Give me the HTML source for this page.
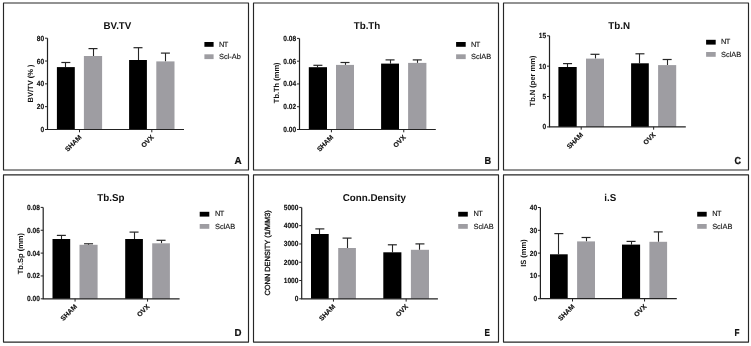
<!DOCTYPE html>
<html><head><meta charset="utf-8"><style>
html,body{margin:0;padding:0;background:#fff;}
body{width:751px;height:346px;overflow:hidden;}
svg{display:block;will-change:transform;filter:blur(0.2px);}
text{font-family:"Liberation Sans",sans-serif;fill:#111;text-rendering:geometricPrecision;}
.tk{font-size:6.6px;font-weight:bold;text-anchor:end;stroke:#000;stroke-width:0.12px;}
.xl{font-size:6.8px;font-weight:bold;text-anchor:end;stroke:#000;stroke-width:0.15px;}
.ti{font-size:9.8px;font-weight:bold;text-anchor:middle;}
.lg{font-size:7.4px;stroke:#111;stroke-width:0.12px;}
.yl{font-size:7.5px;font-weight:bold;text-anchor:middle;}
.ylr{font-size:7.4px;text-anchor:middle;stroke:#111;stroke-width:0.32px;}
.le{font-size:10.2px;font-weight:bold;stroke:#000;stroke-width:0.2px;}
</style></head><body>
<svg width="751" height="346" viewBox="0 0 751 346">
<rect width="751" height="346" fill="#fff"/>
<path d="M3.5 3H248.5V170H3.5Z" fill="none" stroke="#262626" stroke-width="1.15" stroke-linejoin="round"/>
<line x1="65.5" y1="62.5" x2="65.5" y2="67.1" stroke="#262626" stroke-width="1.1"/>
<line x1="61.35" y1="62.5" x2="70.35" y2="62.5" stroke="#262626" stroke-width="1.2"/>
<rect x="56.9" y="67.1" width="17.9" height="62.4" fill="#000"/>
<line x1="93.5" y1="48.6" x2="93.5" y2="56" stroke="#262626" stroke-width="1.1"/>
<line x1="88.5" y1="48.6" x2="97.5" y2="48.6" stroke="#262626" stroke-width="1.2"/>
<rect x="83.9" y="56" width="18.2" height="73.5" fill="#9e9da2"/>
<line x1="138.5" y1="47.7" x2="138.5" y2="60" stroke="#262626" stroke-width="1.1"/>
<line x1="133.5" y1="47.7" x2="142.5" y2="47.7" stroke="#262626" stroke-width="1.2"/>
<rect x="129.1" y="60" width="17.8" height="69.5" fill="#000"/>
<line x1="165.5" y1="53.1" x2="165.5" y2="61.4" stroke="#262626" stroke-width="1.1"/>
<line x1="160.9" y1="53.1" x2="169.9" y2="53.1" stroke="#262626" stroke-width="1.2"/>
<rect x="156.3" y="61.4" width="18.2" height="68.1" fill="#9e9da2"/>
<path d="M47.5 38.2V129.5H184" fill="none" stroke="#222" stroke-width="1.2"/>
<line x1="45" y1="129.5" x2="47.5" y2="129.5" stroke="#222" stroke-width="1"/>
<text transform="translate(44.2 132) scale(1 1.12)" class="tk">0</text>
<line x1="45" y1="106.67" x2="47.5" y2="106.67" stroke="#222" stroke-width="1"/>
<text transform="translate(44.2 109.17) scale(1 1.12)" class="tk">20</text>
<line x1="45" y1="83.85" x2="47.5" y2="83.85" stroke="#222" stroke-width="1"/>
<text transform="translate(44.2 86.35) scale(1 1.12)" class="tk">40</text>
<line x1="45" y1="61.03" x2="47.5" y2="61.03" stroke="#222" stroke-width="1"/>
<text transform="translate(44.2 63.53) scale(1 1.12)" class="tk">60</text>
<line x1="45" y1="38.2" x2="47.5" y2="38.2" stroke="#222" stroke-width="1"/>
<text transform="translate(44.2 40.7) scale(1 1.12)" class="tk">80</text>
<line x1="79.5" y1="129.5" x2="79.5" y2="132.3" stroke="#222" stroke-width="1"/>
<text transform="translate(81.9 137.8) rotate(-45)" class="xl">SHAM</text>
<line x1="151.8" y1="129.5" x2="151.8" y2="132.3" stroke="#222" stroke-width="1"/>
<text transform="translate(154.2 137.8) rotate(-45)" class="xl">OVX</text>
<text transform="translate(117.4 28.8) scale(1 1.02)" class="ti">BV.TV</text>
<rect x="204.4" y="42" width="9.2" height="4.8" fill="#000"/>
<rect x="204.4" y="54.3" width="9.2" height="4.8" fill="#9e9da2"/>
<text x="219" y="46.5" class="lg" letter-spacing="-0.6">NT</text>
<text x="219" y="58.9" class="lg">Scl-Ab</text>
<text transform="translate(32.6 83.5) rotate(-90)" class="yl">BV/TV (% )</text>
<text transform="translate(234.4 163.8) scale(0.97 1)" class="le">A</text>
<path d="M253.5 3H498.5V170H253.5Z" fill="none" stroke="#262626" stroke-width="1.15" stroke-linejoin="round"/>
<line x1="317.5" y1="65.3" x2="317.5" y2="67.2" stroke="#262626" stroke-width="1.1"/>
<line x1="313.4" y1="65.3" x2="322.4" y2="65.3" stroke="#262626" stroke-width="1.2"/>
<rect x="308.8" y="67.2" width="18.2" height="62.3" fill="#000"/>
<line x1="345.5" y1="62.5" x2="345.5" y2="64.9" stroke="#262626" stroke-width="1.1"/>
<line x1="340.5" y1="62.5" x2="349.5" y2="62.5" stroke="#262626" stroke-width="1.2"/>
<rect x="336" y="64.9" width="18" height="64.6" fill="#9e9da2"/>
<line x1="390.5" y1="59.9" x2="390.5" y2="63.6" stroke="#262626" stroke-width="1.1"/>
<line x1="385.55" y1="59.9" x2="394.55" y2="59.9" stroke="#262626" stroke-width="1.2"/>
<rect x="381.1" y="63.6" width="17.9" height="65.9" fill="#000"/>
<line x1="417.5" y1="59.9" x2="417.5" y2="62.9" stroke="#262626" stroke-width="1.1"/>
<line x1="412.75" y1="59.9" x2="421.75" y2="59.9" stroke="#262626" stroke-width="1.2"/>
<rect x="408.1" y="62.9" width="18.3" height="66.6" fill="#9e9da2"/>
<path d="M299.5 38.4V129.5H435.8" fill="none" stroke="#222" stroke-width="1.2"/>
<line x1="297" y1="129.5" x2="299.5" y2="129.5" stroke="#222" stroke-width="1"/>
<text transform="translate(296.2 132) scale(1 1.12)" class="tk">0.00</text>
<line x1="297" y1="106.72" x2="299.5" y2="106.72" stroke="#222" stroke-width="1"/>
<text transform="translate(296.2 109.22) scale(1 1.12)" class="tk">0.02</text>
<line x1="297" y1="83.95" x2="299.5" y2="83.95" stroke="#222" stroke-width="1"/>
<text transform="translate(296.2 86.45) scale(1 1.12)" class="tk">0.04</text>
<line x1="297" y1="61.18" x2="299.5" y2="61.18" stroke="#222" stroke-width="1"/>
<text transform="translate(296.2 63.68) scale(1 1.12)" class="tk">0.06</text>
<line x1="297" y1="38.4" x2="299.5" y2="38.4" stroke="#222" stroke-width="1"/>
<text transform="translate(296.2 40.9) scale(1 1.12)" class="tk">0.08</text>
<line x1="331.4" y1="129.5" x2="331.4" y2="132.3" stroke="#222" stroke-width="1"/>
<text transform="translate(333.8 137.8) rotate(-45)" class="xl">SHAM</text>
<line x1="403.75" y1="129.5" x2="403.75" y2="132.3" stroke="#222" stroke-width="1"/>
<text transform="translate(406.15 137.8) rotate(-45)" class="xl">OVX</text>
<text transform="translate(367 28.8) scale(1 1.02)" class="ti">Tb.Th</text>
<rect x="456.1" y="42" width="9.6" height="4.8" fill="#000"/>
<rect x="456.1" y="54.3" width="9.6" height="4.8" fill="#9e9da2"/>
<text x="471.1" y="46.5" class="lg" letter-spacing="-0.6">NT</text>
<text x="471.1" y="58.9" class="lg">SclAB</text>
<text transform="translate(279 82.8) rotate(-90)" class="yl">Tb.Th (mm)</text>
<text transform="translate(484.4 163.8) scale(0.9 1)" class="le">B</text>
<path d="M503.5 3H748.5V170H503.5Z" fill="none" stroke="#262626" stroke-width="1.15" stroke-linejoin="round"/>
<line x1="567.5" y1="63.6" x2="567.5" y2="67" stroke="#262626" stroke-width="1.1"/>
<line x1="563.05" y1="63.6" x2="572.05" y2="63.6" stroke="#262626" stroke-width="1.2"/>
<rect x="558.4" y="67" width="18.3" height="59.9" fill="#000"/>
<line x1="595.5" y1="54.3" x2="595.5" y2="58.6" stroke="#262626" stroke-width="1.1"/>
<line x1="590.5" y1="54.3" x2="599.5" y2="54.3" stroke="#262626" stroke-width="1.2"/>
<rect x="586" y="58.6" width="18" height="68.3" fill="#9e9da2"/>
<line x1="639.5" y1="53.8" x2="639.5" y2="63.3" stroke="#262626" stroke-width="1.1"/>
<line x1="635.45" y1="53.8" x2="644.45" y2="53.8" stroke="#262626" stroke-width="1.2"/>
<rect x="631.1" y="63.3" width="17.7" height="63.6" fill="#000"/>
<line x1="667.5" y1="59.5" x2="667.5" y2="65.1" stroke="#262626" stroke-width="1.1"/>
<line x1="662.65" y1="59.5" x2="671.65" y2="59.5" stroke="#262626" stroke-width="1.2"/>
<rect x="658.1" y="65.1" width="18.1" height="61.8" fill="#9e9da2"/>
<path d="M549.5 35.8V126.9H685.8" fill="none" stroke="#222" stroke-width="1.2"/>
<line x1="547" y1="126.9" x2="549.5" y2="126.9" stroke="#222" stroke-width="1"/>
<text transform="translate(546.2 129.4) scale(1 1.12)" class="tk">0</text>
<line x1="547" y1="96.53" x2="549.5" y2="96.53" stroke="#222" stroke-width="1"/>
<text transform="translate(546.2 99.03) scale(1 1.12)" class="tk">5</text>
<line x1="547" y1="66.17" x2="549.5" y2="66.17" stroke="#222" stroke-width="1"/>
<text transform="translate(546.2 68.67) scale(1 1.12)" class="tk">10</text>
<line x1="547" y1="35.8" x2="549.5" y2="35.8" stroke="#222" stroke-width="1"/>
<text transform="translate(546.2 38.3) scale(1 1.12)" class="tk">15</text>
<line x1="581.2" y1="126.9" x2="581.2" y2="129.7" stroke="#222" stroke-width="1"/>
<text transform="translate(583.6 135.2) rotate(-45)" class="xl">SHAM</text>
<line x1="653.65" y1="126.9" x2="653.65" y2="129.7" stroke="#222" stroke-width="1"/>
<text transform="translate(656.05 135.2) rotate(-45)" class="xl">OVX</text>
<text transform="translate(619.2 28.8) scale(1 1.02)" class="ti">Tb.N</text>
<rect x="706.1" y="39.8" width="9.6" height="4.8" fill="#000"/>
<rect x="706.1" y="52" width="9.6" height="4.8" fill="#9e9da2"/>
<text x="721.1" y="44.3" class="lg" letter-spacing="-0.6">NT</text>
<text x="721.1" y="56.6" class="lg">SclAB</text>
<text transform="translate(534.6 81) rotate(-90)" class="yl">Tb.N (per mm)</text>
<text transform="translate(734.4 163.8) scale(0.88 1)" class="le">C</text>
<path d="M3.5 174.9H248.5V342.1H3.5Z" fill="none" stroke="#262626" stroke-width="1.15" stroke-linejoin="round"/>
<line x1="61.5" y1="235.4" x2="61.5" y2="239" stroke="#262626" stroke-width="1.1"/>
<line x1="56.85" y1="235.4" x2="65.85" y2="235.4" stroke="#262626" stroke-width="1.2"/>
<rect x="52.5" y="239" width="17.7" height="59.8" fill="#000"/>
<line x1="88.5" y1="243.8" x2="88.5" y2="244.8" stroke="#262626" stroke-width="1.1"/>
<line x1="84.05" y1="243.8" x2="93.05" y2="243.8" stroke="#262626" stroke-width="1.2"/>
<rect x="79.5" y="244.8" width="18.1" height="54" fill="#9e9da2"/>
<line x1="134.5" y1="232.1" x2="134.5" y2="239" stroke="#262626" stroke-width="1.1"/>
<line x1="129.55" y1="232.1" x2="138.55" y2="232.1" stroke="#262626" stroke-width="1.2"/>
<rect x="125.2" y="239" width="17.7" height="59.8" fill="#000"/>
<line x1="161.5" y1="240.3" x2="161.5" y2="243.3" stroke="#262626" stroke-width="1.1"/>
<line x1="156.55" y1="240.3" x2="165.55" y2="240.3" stroke="#262626" stroke-width="1.2"/>
<rect x="152.2" y="243.3" width="17.7" height="55.5" fill="#9e9da2"/>
<path d="M43.2 207.4V298.8H179.6" fill="none" stroke="#222" stroke-width="1.2"/>
<line x1="40.7" y1="298.8" x2="43.2" y2="298.8" stroke="#222" stroke-width="1"/>
<text transform="translate(39.9 301.3) scale(1 1.12)" class="tk">0.00</text>
<line x1="40.7" y1="275.95" x2="43.2" y2="275.95" stroke="#222" stroke-width="1"/>
<text transform="translate(39.9 278.45) scale(1 1.12)" class="tk">0.02</text>
<line x1="40.7" y1="253.1" x2="43.2" y2="253.1" stroke="#222" stroke-width="1"/>
<text transform="translate(39.9 255.6) scale(1 1.12)" class="tk">0.04</text>
<line x1="40.7" y1="230.25" x2="43.2" y2="230.25" stroke="#222" stroke-width="1"/>
<text transform="translate(39.9 232.75) scale(1 1.12)" class="tk">0.06</text>
<line x1="40.7" y1="207.4" x2="43.2" y2="207.4" stroke="#222" stroke-width="1"/>
<text transform="translate(39.9 209.9) scale(1 1.12)" class="tk">0.08</text>
<line x1="75.05" y1="298.8" x2="75.05" y2="301.6" stroke="#222" stroke-width="1"/>
<text transform="translate(77.45 307.1) rotate(-45)" class="xl">SHAM</text>
<line x1="147.55" y1="298.8" x2="147.55" y2="301.6" stroke="#222" stroke-width="1"/>
<text transform="translate(149.95 307.1) rotate(-45)" class="xl">OVX</text>
<text transform="translate(110.8 201) scale(1 1.02)" class="ti">Tb.Sp</text>
<rect x="199.7" y="211.8" width="9.6" height="4.8" fill="#000"/>
<rect x="199.7" y="224" width="9.6" height="4.8" fill="#9e9da2"/>
<text x="215" y="216.3" class="lg" letter-spacing="-0.6">NT</text>
<text x="215" y="228.6" class="lg">SclAB</text>
<text transform="translate(22.6 253.6) rotate(-90)" class="yl">Tb.Sp (mm)</text>
<text transform="translate(234.4 335.8) scale(0.95 1)" class="le">D</text>
<path d="M253.5 174.9H498.5V342.1H253.5Z" fill="none" stroke="#262626" stroke-width="1.15" stroke-linejoin="round"/>
<line x1="319.5" y1="228.9" x2="319.5" y2="234" stroke="#262626" stroke-width="1.1"/>
<line x1="315.35" y1="228.9" x2="324.35" y2="228.9" stroke="#262626" stroke-width="1.2"/>
<rect x="311" y="234" width="17.7" height="64.8" fill="#000"/>
<line x1="347.5" y1="238.1" x2="347.5" y2="248" stroke="#262626" stroke-width="1.1"/>
<line x1="342.55" y1="238.1" x2="351.55" y2="238.1" stroke="#262626" stroke-width="1.2"/>
<rect x="338.2" y="248" width="17.7" height="50.8" fill="#9e9da2"/>
<line x1="392.5" y1="244.8" x2="392.5" y2="252.3" stroke="#262626" stroke-width="1.1"/>
<line x1="387.85" y1="244.8" x2="396.85" y2="244.8" stroke="#262626" stroke-width="1.2"/>
<rect x="383.3" y="252.3" width="18.1" height="46.5" fill="#000"/>
<line x1="419.5" y1="243.9" x2="419.5" y2="249.8" stroke="#262626" stroke-width="1.1"/>
<line x1="415.45" y1="243.9" x2="424.45" y2="243.9" stroke="#262626" stroke-width="1.2"/>
<rect x="410.9" y="249.8" width="18.1" height="49" fill="#9e9da2"/>
<path d="M301.7 207.4V298.8H437.9" fill="none" stroke="#222" stroke-width="1.2"/>
<line x1="299.2" y1="298.8" x2="301.7" y2="298.8" stroke="#222" stroke-width="1"/>
<text transform="translate(298.4 301.3) scale(1 1.12)" class="tk">0</text>
<line x1="299.2" y1="280.52" x2="301.7" y2="280.52" stroke="#222" stroke-width="1"/>
<text transform="translate(298.4 283.02) scale(1 1.12)" class="tk">1000</text>
<line x1="299.2" y1="262.24" x2="301.7" y2="262.24" stroke="#222" stroke-width="1"/>
<text transform="translate(298.4 264.74) scale(1 1.12)" class="tk">2000</text>
<line x1="299.2" y1="243.96" x2="301.7" y2="243.96" stroke="#222" stroke-width="1"/>
<text transform="translate(298.4 246.46) scale(1 1.12)" class="tk">3000</text>
<line x1="299.2" y1="225.68" x2="301.7" y2="225.68" stroke="#222" stroke-width="1"/>
<text transform="translate(298.4 228.18) scale(1 1.12)" class="tk">4000</text>
<line x1="299.2" y1="207.4" x2="301.7" y2="207.4" stroke="#222" stroke-width="1"/>
<text transform="translate(298.4 209.9) scale(1 1.12)" class="tk">5000</text>
<line x1="333.45" y1="298.8" x2="333.45" y2="301.6" stroke="#222" stroke-width="1"/>
<text transform="translate(335.85 307.1) rotate(-45)" class="xl">SHAM</text>
<line x1="406.15" y1="298.8" x2="406.15" y2="301.6" stroke="#222" stroke-width="1"/>
<text transform="translate(408.55 307.1) rotate(-45)" class="xl">OVX</text>
<text transform="translate(374.3 201) scale(1 1.02)" class="ti">Conn.Density</text>
<rect x="458.2" y="211.8" width="9.6" height="4.8" fill="#000"/>
<rect x="458.2" y="224" width="9.6" height="4.8" fill="#9e9da2"/>
<text x="473.5" y="216.3" class="lg" letter-spacing="-0.6">NT</text>
<text x="473.5" y="228.6" class="lg">SclAB</text>
<text transform="translate(270.2 252.9) rotate(-90)" class="ylr">CONN DENSITY (1/MM3)</text>
<text transform="translate(484.4 335.8) scale(0.8 1)" class="le">E</text>
<path d="M503.5 174.9H748.5V342.1H503.5Z" fill="none" stroke="#262626" stroke-width="1.15" stroke-linejoin="round"/>
<line x1="558.5" y1="233.6" x2="558.5" y2="254.3" stroke="#262626" stroke-width="1.1"/>
<line x1="554.35" y1="233.6" x2="563.35" y2="233.6" stroke="#262626" stroke-width="1.2"/>
<rect x="550" y="254.3" width="17.7" height="44.4" fill="#000"/>
<line x1="586.5" y1="237.5" x2="586.5" y2="241.4" stroke="#262626" stroke-width="1.1"/>
<line x1="581.55" y1="237.5" x2="590.55" y2="237.5" stroke="#262626" stroke-width="1.2"/>
<rect x="577.1" y="241.4" width="17.9" height="57.3" fill="#9e9da2"/>
<line x1="631.5" y1="241.4" x2="631.5" y2="244.6" stroke="#262626" stroke-width="1.1"/>
<line x1="626.55" y1="241.4" x2="635.55" y2="241.4" stroke="#262626" stroke-width="1.2"/>
<rect x="622" y="244.6" width="18.1" height="54.1" fill="#000"/>
<line x1="658.5" y1="231.9" x2="658.5" y2="241.8" stroke="#262626" stroke-width="1.1"/>
<line x1="653.75" y1="231.9" x2="662.75" y2="231.9" stroke="#262626" stroke-width="1.2"/>
<rect x="649.4" y="241.8" width="17.7" height="56.9" fill="#9e9da2"/>
<path d="M540.4 207.5V298.7H676.8" fill="none" stroke="#222" stroke-width="1.2"/>
<line x1="537.9" y1="298.7" x2="540.4" y2="298.7" stroke="#222" stroke-width="1"/>
<text transform="translate(537.1 301.2) scale(1 1.12)" class="tk">0</text>
<line x1="537.9" y1="275.9" x2="540.4" y2="275.9" stroke="#222" stroke-width="1"/>
<text transform="translate(537.1 278.4) scale(1 1.12)" class="tk">10</text>
<line x1="537.9" y1="253.1" x2="540.4" y2="253.1" stroke="#222" stroke-width="1"/>
<text transform="translate(537.1 255.6) scale(1 1.12)" class="tk">20</text>
<line x1="537.9" y1="230.3" x2="540.4" y2="230.3" stroke="#222" stroke-width="1"/>
<text transform="translate(537.1 232.8) scale(1 1.12)" class="tk">30</text>
<line x1="537.9" y1="207.5" x2="540.4" y2="207.5" stroke="#222" stroke-width="1"/>
<text transform="translate(537.1 210) scale(1 1.12)" class="tk">40</text>
<line x1="572.5" y1="298.7" x2="572.5" y2="301.5" stroke="#222" stroke-width="1"/>
<text transform="translate(574.9 307) rotate(-45)" class="xl">SHAM</text>
<line x1="644.55" y1="298.7" x2="644.55" y2="301.5" stroke="#222" stroke-width="1"/>
<text transform="translate(646.95 307) rotate(-45)" class="xl">OVX</text>
<text transform="translate(610.3 201) scale(1 1.02)" class="ti">i.S</text>
<rect x="697.2" y="211.8" width="9.5" height="4.8" fill="#000"/>
<rect x="697.2" y="224" width="9.5" height="4.8" fill="#9e9da2"/>
<text x="712.2" y="216.3" class="lg" letter-spacing="-0.6">NT</text>
<text x="712.2" y="228.6" class="lg">SclAB</text>
<text transform="translate(526 253.1) rotate(-90)" class="yl">IS (mm)</text>
<text transform="translate(734.4 335.8) scale(0.8 1)" class="le">F</text>
</svg>
</body></html>
